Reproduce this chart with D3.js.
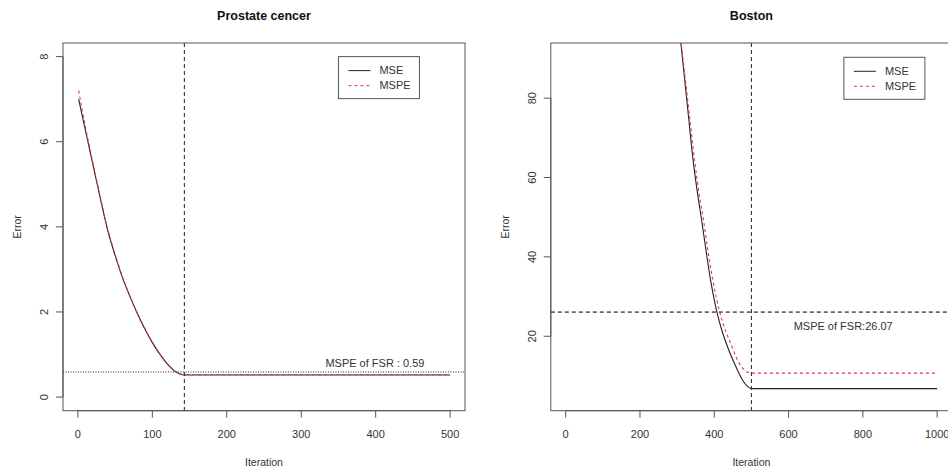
<!DOCTYPE html>
<html lang="en">
<head>
  <meta charset="UTF-8">
  <script src="https://d3js.org/d3.v7.min.js"></script>
  <style>
    body { margin: 0; background: #fff; }
    text { font-family: "Liberation Sans", Arial, sans-serif; fill: #333; }
  </style>
  <title>Prostate cencer / Boston</title>
</head>
<body>
  <div id="chart"></div>
  <script>
    // Prostate cencer panel
    var prostateIter = [1, 10, 20, 30, 40, 50, 60, 70, 80, 90, 100, 110, 120, 130, 143, 200, 300, 400, 500];
    var prostateMSE  = [7.0, 6.28, 5.48, 4.68, 3.92, 3.33, 2.80, 2.36, 1.96, 1.60, 1.28, 1.01, 0.78, 0.61, 0.52, 0.52, 0.52, 0.52, 0.52];
    var prostateMSPE = [7.2, 6.36, 5.52, 4.71, 3.95, 3.35, 2.82, 2.37, 1.97, 1.61, 1.29, 1.02, 0.79, 0.62, 0.53, 0.53, 0.53, 0.53, 0.53];
    var prostateStop = 143;
    var prostateFSR = 0.59;
    var prostateXTicks = [0, 100, 200, 300, 400, 500];
    var prostateYTicks = [0, 2, 4, 6, 8];

    // Boston panel
    var bostonMSEIter  = [300, 310, 320, 330, 343, 355, 366, 378, 390, 406, 422, 438, 456, 474, 488, 500, 1000];
    var bostonMSE      = [103, 94, 85, 76, 64.4, 56, 49.3, 41.5, 34.2, 26.5, 21, 16.8, 12.8, 9.3, 7.5, 6.8, 6.8];
    var bostonMSPEIter = [300, 311, 322, 334, 347, 359, 371, 383, 396, 415, 432, 446, 460, 472, 485, 500, 1000];
    var bostonMSPE     = [104, 94, 85, 75, 64.4, 56, 49.3, 41.5, 34.2, 26, 21, 17.8, 14.5, 12.5, 11.2, 10.7, 10.7];
    var bostonStop = 500;
    var bostonFSR = 26.07;
    var bostonXTicks = [0, 200, 400, 600, 800, 1000];
    var bostonYTicks = [20, 40, 60, 80];

    var width = 948, height = 468;
    var svg = d3.select("#chart").append("svg")
      .attr("width", width)
      .attr("height", height);

    function drawPanel(p) {
      var x = d3.scaleLinear().domain(p.xDomain).range([p.left, p.right]);
      var y = d3.scaleLinear().domain(p.yDomain).range([p.bottom, p.top]);
      var g = svg.append("g");

      g.append("clipPath").attr("id", p.id + "-clip")
        .append("rect")
        .attr("x", p.left).attr("y", p.top)
        .attr("width", p.right - p.left).attr("height", p.bottom - p.top);

      var plot = g.append("g").attr("clip-path", "url(#" + p.id + "-clip)");

      var line = d3.line()
        .x(function(d) { return x(d[0]); })
        .y(function(d) { return y(d[1]); })
        .curve(d3.curveMonotoneX);

      // MSE (black solid)
      plot.append("path")
        .datum(d3.zip(p.mseIter, p.mse))
        .attr("d", line)
        .attr("fill", "none")
        .attr("stroke", "#222")
        .attr("stroke-width", 1.1);

      // MSPE (red dashed)
      plot.append("path")
        .datum(d3.zip(p.mspeIter, p.mspe))
        .attr("d", line)
        .attr("fill", "none")
        .attr("stroke", "#e8343a")
        .attr("stroke-width", 1.1)
        .attr("stroke-dasharray", "3,3");

      // stop iteration
      plot.append("line")
        .attr("x1", x(p.stop)).attr("x2", x(p.stop))
        .attr("y1", p.top).attr("y2", p.bottom)
        .attr("stroke", "#222")
        .attr("stroke-dasharray", "4,3");

      // MSPE of FSR
      plot.append("line")
        .attr("x1", p.left).attr("x2", p.right)
        .attr("y1", y(p.fsr)).attr("y2", y(p.fsr))
        .attr("stroke", p.fsrColor)
        .attr("stroke-width", p.fsrWidth)
        .attr("stroke-dasharray", p.fsrDash);

      g.append("text")
        .attr("x", x(p.labelAt[0])).attr("y", y(p.labelAt[1]))
        .attr("text-anchor", "middle")
        .attr("dy", "0.35em")
        .style("font-size", "11px")
        .text(p.label);

      // frame
      g.append("rect")
        .attr("x", p.left).attr("y", p.top)
        .attr("width", p.right - p.left).attr("height", p.bottom - p.top)
        .attr("fill", "none")
        .attr("stroke", "#555");

      // x axis
      var xa = g.append("g");
      xa.append("line")
        .attr("x1", x(p.xTicks[0])).attr("x2", x(p.xTicks[p.xTicks.length - 1]))
        .attr("y1", p.bottom).attr("y2", p.bottom)
        .attr("stroke", "#555");
      xa.selectAll(".xt").data(p.xTicks).enter().append("line")
        .attr("x1", function(d) { return x(d); }).attr("x2", function(d) { return x(d); })
        .attr("y1", p.bottom).attr("y2", p.bottom + 7)
        .attr("stroke", "#555");
      xa.selectAll(".xl").data(p.xTicks).enter().append("text")
        .attr("x", function(d) { return x(d); })
        .attr("y", 438)
        .attr("text-anchor", "middle")
        .style("font-size", "11px")
        .text(function(d) { return d; });

      // y axis
      var ya = g.append("g");
      ya.append("line")
        .attr("x1", p.left).attr("x2", p.left)
        .attr("y1", y(p.yTicks[0])).attr("y2", y(p.yTicks[p.yTicks.length - 1]))
        .attr("stroke", "#555");
      ya.selectAll(".yt").data(p.yTicks).enter().append("line")
        .attr("x1", p.left - 7).attr("x2", p.left)
        .attr("y1", function(d) { return y(d); }).attr("y2", function(d) { return y(d); })
        .attr("stroke", "#555");
      ya.selectAll(".yl").data(p.yTicks).enter().append("text")
        .attr("transform", function(d) { return "translate(" + (p.left - 15) + "," + y(d) + ") rotate(-90)"; })
        .attr("text-anchor", "middle")
        .style("font-size", "11px")
        .text(function(d) { return d; });

      // titles
      var cx = (p.left + p.right) / 2;
      g.append("text")
        .attr("x", cx).attr("y", 20)
        .attr("text-anchor", "middle")
        .style("font-size", "12.5px")
        .style("font-weight", "bold")
        .style("fill", "#111")
        .text(p.title);
      g.append("text")
        .attr("x", cx).attr("y", 466)
        .attr("text-anchor", "middle")
        .style("font-size", "10.5px")
        .text("Iteration");
      g.append("text")
        .attr("transform", "translate(" + (p.left - 42) + "," + ((p.top + p.bottom) / 2) + ") rotate(-90)")
        .attr("text-anchor", "middle")
        .style("font-size", "10.5px")
        .text("Error");

      // legend
      var lx = x(p.legendAt[0]), ly = y(p.legendAt[1]);
      var lg = g.append("g").attr("transform", "translate(" + lx + "," + ly + ")");
      lg.append("rect")
        .attr("width", 81).attr("height", 42)
        .attr("fill", "#fff")
        .attr("stroke", "#555");
      var items = [
        { name: "MSE", color: "#222", dash: null },
        { name: "MSPE", color: "#e8343a", dash: "3,3" }
      ];
      items.forEach(function(it, i) {
        var yy = 14 + i * 15;
        lg.append("line")
          .attr("x1", 10).attr("x2", 32)
          .attr("y1", yy).attr("y2", yy)
          .attr("stroke", it.color)
          .attr("stroke-dasharray", it.dash);
        lg.append("text")
          .attr("x", 41).attr("y", yy)
          .attr("dy", "0.35em")
          .style("font-size", "11px")
          .text(it.name);
      });
    }

    drawPanel({
      id: "prostate", title: "Prostate cencer",
      left: 63, right: 465, top: 43, bottom: 410.7,
      xDomain: [-20, 520], yDomain: [-0.32, 8.32],
      xTicks: prostateXTicks, yTicks: prostateYTicks,
      mseIter: prostateIter, mse: prostateMSE,
      mspeIter: prostateIter, mspe: prostateMSPE,
      stop: prostateStop, fsr: prostateFSR,
      fsrColor: "#222", fsrWidth: 1, fsrDash: "1,1.5",
      label: "MSPE of FSR : " + prostateFSR, labelAt: [399, 0.8],
      legendAt: [350, 8.0]
    });

    drawPanel({
      id: "boston", title: "Boston",
      left: 550.8, right: 952, top: 43, bottom: 410.7,
      xDomain: [-40, 1040], yDomain: [1.24, 93.9],
      xTicks: bostonXTicks, yTicks: bostonYTicks,
      mseIter: bostonMSEIter, mse: bostonMSE,
      mspeIter: bostonMSPEIter, mspe: bostonMSPE,
      stop: bostonStop, fsr: bostonFSR,
      fsrColor: "#666", fsrWidth: 1.6, fsrDash: "4,3",
      label: "MSPE of FSR:" + bostonFSR, labelAt: [747, 22.5],
      legendAt: [749, 90.3]
    });
  </script>
</body>
</html>
